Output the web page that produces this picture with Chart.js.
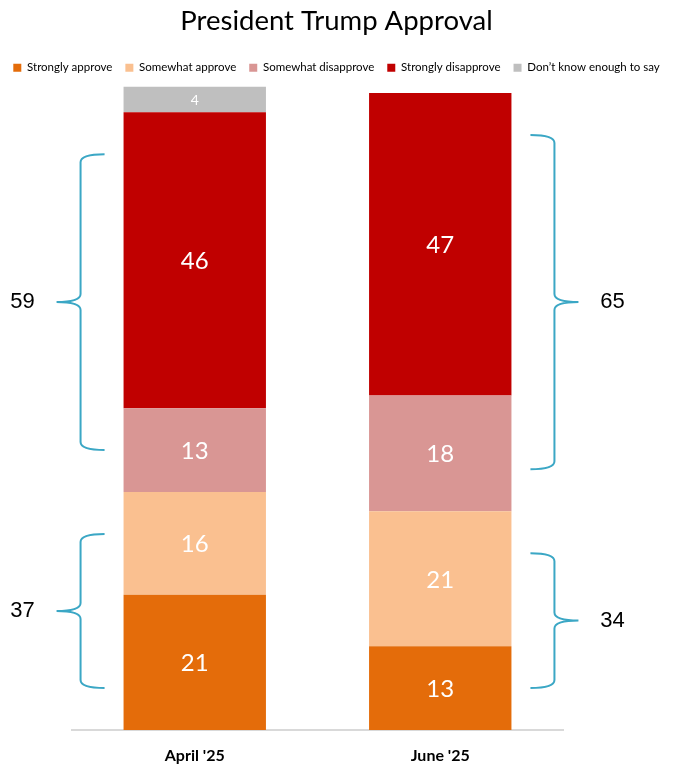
<!DOCTYPE html>
<html>
<head>
<meta charset="utf-8">
<script src="https://cdn.jsdelivr.net/npm/chart.js@4.4.1/dist/chart.umd.min.js"></script>
<style>
body { margin: 0; background: #fff; }
#wrap { width: 673px; height: 766px; }
</style>
</head>
<body>
<div id="wrap"><canvas id="chart"></canvas></div>
<script>
// Survey waves and stacked shares (bottom to top)
const waves = ["April '25", "June '25"];
const stronglyApprove = [21, 13];
const somewhatApprove = [16, 21];
const somewhatDisapprove = [13, 18];
const stronglyDisapprove = [46, 47];
const dontKnow = [4, null];

// Net totals shown next to the braces
const netApprove = [37, 34];
const netDisapprove = [59, 65];

const seriesNames = ['Strongly approve', 'Somewhat approve', 'Somewhat disapprove', 'Strongly disapprove', 'Don\u2019t know enough to say'];
const seriesColors = ['#E46C0A', '#FAC090', '#D99694', '#C00000', '#BFBFBF'];
const seriesValues = [stronglyApprove, somewhatApprove, somewhatDisapprove, stronglyDisapprove, dontKnow];

const BRACE_COLOR = '#3BA7C5';

function drawBrace(ctx, xEnd, xMid, xTip, y1, y2) {
    const ym = (y1 + y2) / 2, r = 8;
    ctx.beginPath();
    ctx.moveTo(xEnd, y1);
    ctx.quadraticCurveTo(xMid, y1, xMid, y1 + r);
    ctx.lineTo(xMid, ym - r);
    ctx.quadraticCurveTo(xMid, ym, xTip, ym);
    ctx.quadraticCurveTo(xMid, ym, xMid, ym + r);
    ctx.lineTo(xMid, y2 - r);
    ctx.quadraticCurveTo(xMid, y2, xEnd, y2);
    ctx.stroke();
}

// value labels inside each segment
const segmentLabels = {
    id: 'segmentLabels',
    afterDatasetsDraw(chart) {
        const ctx = chart.ctx;
        ctx.save();
        ctx.textAlign = 'center';
        ctx.textBaseline = 'middle';
        ctx.fillStyle = '#fff';
        chart.data.datasets.forEach((ds, d) => {
            const meta = chart.getDatasetMeta(d);
            meta.data.forEach((el, i) => {
                const v = ds.data[i];
                if (v == null) return;
                ctx.font = (d === 4 ? '14px' : '24px') + ' Lato, sans-serif';
                ctx.fillText(v, el.x, (el.y + el.base) / 2 + 1);
            });
        });
        ctx.restore();
    }
};

// curly braces with net approve / disapprove
const netBraces = {
    id: 'netBraces',
    afterDatasetsDraw(chart) {
        const ctx = chart.ctx, y = chart.scales.y;
        const groups = [
            { net: netApprove, from: 0, to: 1 },
            { net: netDisapprove, from: 2, to: 3 }
        ];
        ctx.save();
        ctx.strokeStyle = BRACE_COLOR;
        ctx.lineWidth = 2;
        ctx.fillStyle = '#000';
        ctx.font = '22px "Liberation Sans", Arial, sans-serif';
        ctx.textAlign = 'center';
        ctx.textBaseline = 'middle';
        waves.forEach((w, i) => {
            const bar = chart.getDatasetMeta(0).data[i];
            const dir = i === 0 ? -1 : 1; // April on the left, June on the right
            const edge = bar.x + dir * bar.width / 2;
            groups.forEach(g => {
                let lo = 0;
                for (let d = 0; d < g.from; d++) lo += seriesValues[d][i] || 0;
                let hi = lo;
                for (let d = g.from; d <= g.to; d++) hi += seriesValues[d][i] || 0;
                const y1 = y.getPixelForValue(hi) + 42;
                const y2 = y.getPixelForValue(lo) - 42;
                drawBrace(ctx, edge + dir * 19, edge + dir * 43, edge + dir * 67, y1, y2);
                ctx.fillText(g.net[i], edge + dir * 101, (y1 + y2) / 2);
            });
        });
        ctx.restore();
    }
};

new Chart(document.getElementById('chart'), {
    type: 'bar',
    data: {
        labels: waves,
        datasets: seriesNames.map((name, d) => ({
            label: name,
            data: seriesValues[d],
            backgroundColor: seriesColors[d],
            borderWidth: 0,
            categoryPercentage: 1,
            barPercentage: 0.58
        }))
    },
    options: {
        responsive: true,
        maintainAspectRatio: false,
        animation: false,
        layout: { padding: 0 },
        plugins: {
            title: {
                display: true,
                text: 'President Trump Approval',
                color: '#000',
                font: { family: 'Lato, sans-serif', size: 27.5, weight: 'normal' },
                padding: { top: 5, bottom: 11 }
            },
            legend: {
                position: 'top',
                labels: {
                    boxWidth: 8,
                    boxHeight: 8,
                    padding: 13,
                    color: '#000',
                    font: { family: 'Lato, sans-serif', size: 11.5 }
                }
            },
            tooltip: { enabled: false }
        },
        scales: {
            x: {
                stacked: true,
                grid: { display: false, drawTicks: false },
                border: { color: '#D9D9D9', width: 2 },
                ticks: { color: '#000', padding: 16, font: { family: 'Lato, sans-serif', size: 16, weight: 'bold' } },
                afterFit(s) { s.height = 36; }
            },
            // spacer between legend and plot
            xTop: {
                position: 'top',
                grid: { display: false, drawTicks: false },
                border: { display: false },
                ticks: { display: false },
                afterFit(s) { s.height = 3; }
            },
            y: {
                stacked: true,
                min: 0,
                max: 100,
                grid: { display: false, drawTicks: false },
                border: { display: false },
                ticks: { display: false },
                afterFit(s) { s.width = 72; }
            },
            yRight: {
                position: 'right',
                grid: { display: false, drawTicks: false },
                border: { display: false },
                ticks: { display: false },
                afterFit(s) { s.width = 110; }
            }
        }
    },
    plugins: [segmentLabels, netBraces]
});
</script>
</body>
</html>
